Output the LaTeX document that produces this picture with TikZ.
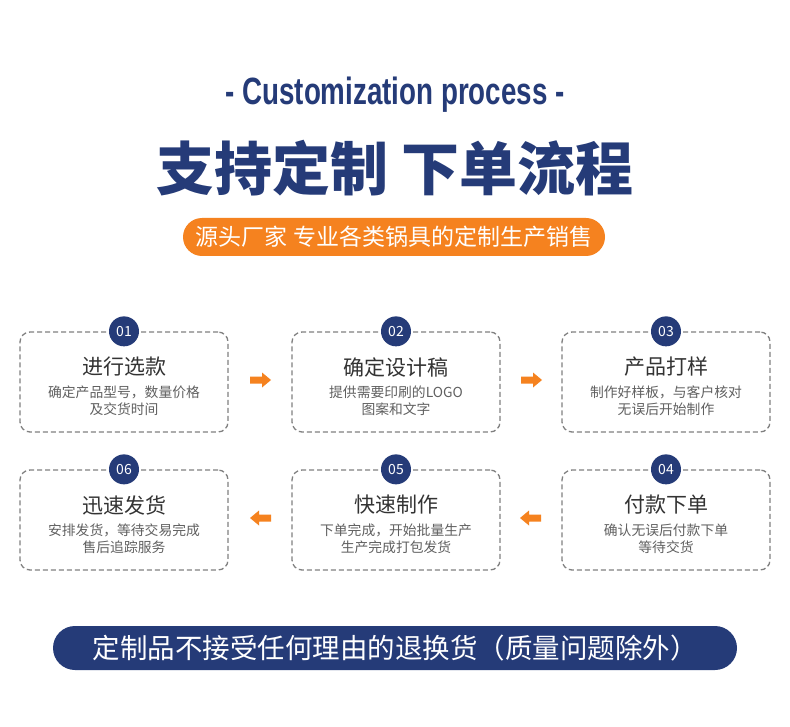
\documentclass[tikz,border=0pt]{standalone}
\usepackage{fontspec}
\usepackage{xcolor}
\setmainfont{Liberation Sans}
\newfontfamily\cjk{Noto Sans CJK SC}
\newfontfamily\narrow[FakeStretch=0.73]{Liberation Sans}
\usetikzlibrary{positioning}
\definecolor{navy}{HTML}{253B78}
\definecolor{brandorange}{HTML}{F5821F}
\definecolor{boxgray}{HTML}{808080}
\definecolor{textdark}{HTML}{333333}
\definecolor{textgray}{HTML}{606060}
\tikzset{
	stepbox/.style={draw=boxgray, line width=1.3pt, dash pattern=on 5pt off 3pt,
		rounded corners=10pt, minimum width=208pt, minimum height=100pt},
	numdot/.style={circle, fill=navy, minimum size=30pt, inner sep=0pt,
		text=white, font=\cjk\fontsize{14}{14}\selectfont},
	steptitle/.style={text=textdark, font=\cjk\fontsize{21}{21}\selectfont},
	stepnote/.style={text=textgray, align=center, inner sep=1pt,
		font=\cjk\fontsize{13.8}{17}\selectfont}
}
% arrow pointing right (#3=1) or left (#3=-1)
\newcommand{\flowarrow}[3]{\fill[brandorange] (#1,#2) ++(-10*#3,-3.5) -- ++(12*#3,0) -- ++(0,-4)
	-- ++(9*#3,7.5) -- ++(-9*#3,7.5) -- ++(0,-4) -- ++(-12*#3,0) -- cycle}

\begin{document}
\begin{tikzpicture}[x=1pt,y=-1pt]
	\useasboundingbox[fill=white] (0,0) rectangle (790,727);
	% heading
	\node[text=navy, font=\narrow\bfseries\fontsize{38}{38}\selectfont] (entitle) at (395,95)
		{- Customization process -};
	\node[text=navy, font=\cjk\bfseries\fontsize{58}{58}\selectfont] (cntitle) at (395,168)
		{支持定制 下单流程};
	\node[fill=brandorange, rounded corners=19pt, minimum width=422pt, minimum height=38pt,
		text=white, font=\cjk\fontsize{23}{23}\selectfont] (tagline) at (394,237)
		{源头厂家 专业各类锅具的定制生产销售};
	% steps, row one
	\node[stepbox] (s1) at (124,382) {};
	\node[stepbox] (s2) at (396,382) {};
	\node[stepbox] (s3) at (666,382) {};
	% steps, row two
	\node[stepbox] (s6) at (124,520) {};
	\node[stepbox] (s5) at (396,520) {};
	\node[stepbox] (s4) at (666,520) {};
	\node[numdot] (n1) at (s1.north) {01};
	\node[numdot] (n2) at (s2.north) {02};
	\node[numdot] (n3) at (s3.north) {03};
	\node[numdot] (n4) at (s4.north) {04};
	\node[numdot] (n5) at (s5.north) {05};
	\node[numdot] (n6) at (s6.north) {06};
	\node[steptitle] (t1) at (124,367) {进行选款};
	\node[stepnote, below=4pt of t1] (d1) {确定产品型号，数量价格\\及交货时间};
	\node[steptitle] (t2) at (396,367) {确定设计稿};
	\node[stepnote, below=4pt of t2] (d2) {提供需要印刷的LOGO\\图案和文字};
	\node[steptitle] (t3) at (666,367) {产品打样};
	\node[stepnote, below=4pt of t3] (d3) {制作好样板，与客户核对\\无误后开始制作};
	\node[steptitle] (t4) at (666,505) {付款下单};
	\node[stepnote, below=4pt of t4] (d4) {确认无误后付款下单\\等待交货};
	\node[steptitle] (t5) at (396,505) {快速制作};
	\node[stepnote, below=4pt of t5] (d5) {下单完成，开始批量生产\\生产完成打包发货};
	\node[steptitle] (t6) at (124,505) {迅速发货};
	\node[stepnote, below=4pt of t6] (d6) {安排发货，等待交易完成\\售后追踪服务};
	% arrows between steps
	\flowarrow{260}{380}{1};
	\flowarrow{531}{380}{1};
	\flowarrow{261}{518}{-1};
	\flowarrow{531}{518}{-1};
	% footer
	\node[fill=navy, rounded corners=22pt, minimum width=684pt, minimum height=44pt,
		text=white, font=\cjk\fontsize{27.5}{27.5}\selectfont] (footer) at (395,648)
		{定制品不接受任何理由的退换货（质量问题除外）};
\end{tikzpicture}
\end{document}
